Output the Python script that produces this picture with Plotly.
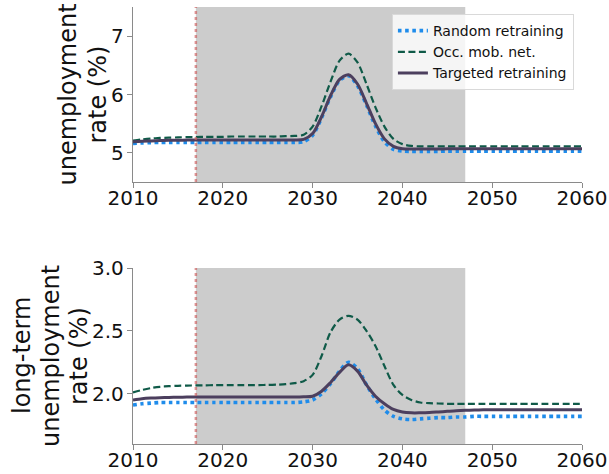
import plotly.graph_objects as go

# ---- data -------------------------------------------------------------
years = list(range(2010, 2061))

# unemployment rate (%)
u_random = [5.16, 5.17, 5.175, 5.18, 5.18, 5.18, 5.18, 5.18, 5.18, 5.18,
            5.18, 5.18, 5.18, 5.18, 5.18, 5.18, 5.18, 5.18, 5.18, 5.19,
            5.30, 5.60, 5.96, 6.24, 6.32, 6.15, 5.82, 5.46, 5.19, 5.06,
            5.03, 5.025, 5.025, 5.025, 5.025, 5.03, 5.03, 5.03, 5.03, 5.03,
            5.03, 5.03, 5.03, 5.03, 5.03, 5.03, 5.03, 5.03, 5.03, 5.03, 5.03]
u_occ = [5.21, 5.23, 5.245, 5.255, 5.26, 5.265, 5.27, 5.27, 5.275, 5.275,
         5.275, 5.28, 5.28, 5.28, 5.28, 5.28, 5.28, 5.285, 5.29, 5.31,
         5.45, 5.80, 6.22, 6.58, 6.70, 6.55, 6.18, 5.78, 5.45, 5.24,
         5.15, 5.12, 5.11, 5.11, 5.11, 5.11, 5.11, 5.11, 5.11, 5.11,
         5.11, 5.11, 5.11, 5.11, 5.11, 5.11, 5.11, 5.11, 5.11, 5.11, 5.11]
u_targeted = [5.19, 5.20, 5.205, 5.21, 5.215, 5.215, 5.22, 5.22, 5.22, 5.22,
              5.22, 5.22, 5.22, 5.22, 5.22, 5.22, 5.22, 5.22, 5.22, 5.23,
              5.33, 5.62, 5.98, 6.26, 6.34, 6.18, 5.85, 5.50, 5.24, 5.11,
              5.07, 5.065, 5.065, 5.065, 5.065, 5.07, 5.07, 5.07, 5.07, 5.07,
              5.07, 5.07, 5.07, 5.07, 5.07, 5.07, 5.07, 5.07, 5.07, 5.07, 5.07]

# long-term unemployment rate (%)
lt_random = [1.91, 1.92, 1.925, 1.93, 1.93, 1.93, 1.93, 1.93, 1.93, 1.93,
             1.93, 1.93, 1.93, 1.93, 1.93, 1.93, 1.93, 1.93, 1.93, 1.935,
             1.95, 2.00, 2.08, 2.18, 2.25, 2.20, 2.07, 1.96, 1.87, 1.82,
             1.80, 1.795, 1.80, 1.805, 1.81, 1.81, 1.815, 1.815, 1.82, 1.82,
             1.82, 1.82, 1.82, 1.82, 1.82, 1.82, 1.82, 1.82, 1.82, 1.82, 1.82]
lt_occ = [2.01, 2.03, 2.045, 2.055, 2.06, 2.063, 2.065, 2.066, 2.067, 2.068,
          2.068, 2.068, 2.068, 2.068, 2.069, 2.07, 2.072, 2.076, 2.085, 2.10,
          2.15, 2.30, 2.49, 2.59, 2.62, 2.59, 2.50, 2.38, 2.22, 2.07,
          1.99, 1.95, 1.93, 1.925, 1.922, 1.92, 1.92, 1.92, 1.92, 1.92,
          1.92, 1.92, 1.92, 1.92, 1.92, 1.92, 1.92, 1.92, 1.92, 1.92, 1.92]
lt_targeted = [1.95, 1.96, 1.965, 1.968, 1.97, 1.972, 1.973, 1.973, 1.973, 1.973,
               1.973, 1.973, 1.973, 1.973, 1.973, 1.973, 1.973, 1.973, 1.973, 1.975,
               1.98, 2.02, 2.09, 2.17, 2.23, 2.18, 2.07, 1.98, 1.92, 1.875,
               1.855, 1.848, 1.848, 1.85, 1.855, 1.86, 1.865, 1.868, 1.87, 1.872,
               1.873, 1.873, 1.873, 1.873, 1.873, 1.873, 1.873, 1.873, 1.873, 1.873, 1.873]

series_names = ["Random retraining", "Occ. mob. net.", "Targeted retraining"]
x_ticks = [2010, 2020, 2030, 2040, 2050, 2060]
shock_start = 2017
shock_end = 2047

# ---- styling ----------------------------------------------------------
colors = ["#1f8ceb", "#0f5a48", "#4c3f5e"]
line_styles = [
    dict(color=colors[0], width=3.6, dash="dot"),
    dict(color=colors[1], width=2.2, dash="7px,3.5px"),
    dict(color=colors[2], width=3.0, dash="solid"),
]
font_family = "DejaVu Sans"

fig = go.Figure()

panels = [
    ("x", "y", [u_random, u_occ, u_targeted], True),
    ("x2", "y2", [lt_random, lt_occ, lt_targeted], False),
]
for xa, ya, data, show in panels:
    for name, vals, style in zip(series_names, data, line_styles):
        fig.add_trace(go.Scatter(
            x=years, y=vals, name=name, mode="lines",
            line=dict(shape="spline", smoothing=0.8, **style),
            xaxis=xa, yaxis=ya, showlegend=show,
        ))

# shaded shock window and start marker in both panels
for xr, yr in [("x", "y domain"), ("x2", "y2 domain")]:
    fig.add_shape(type="rect", xref=xr, yref=yr, x0=shock_start, x1=shock_end,
                  y0=0, y1=1, fillcolor="#cccccc", line_width=0, layer="below")
    fig.add_shape(type="line", xref=xr, yref=yr, x0=shock_start, x1=shock_start,
                  y0=0, y1=1, line=dict(color="rgba(205,92,92,0.65)", width=2.5, dash="dot"),
                  layer="above")

axis_common = dict(
    automargin=False,
    showline=True, linecolor="#8a8a8a", linewidth=1.3,
    ticks="outside", ticklen=5, tickwidth=1.3, tickcolor="#8a8a8a",
    showgrid=False, zeroline=False,
    tickfont=dict(family=font_family, size=20, color="#111111"),
)
x_common = dict(axis_common, ticklabelstandoff=-7)
y_common = dict(axis_common, ticklabelstandoff=-1)

fig.update_layout(
    width=609, height=474,
    margin=dict(l=133, r=27, t=7, b=30),
    paper_bgcolor="white", plot_bgcolor="white",
    font=dict(family=font_family, color="#111111"),
    xaxis=dict(domain=[0, 1], anchor="y", range=[2010, 2060], tickvals=x_ticks, **x_common),
    yaxis=dict(domain=[0.5995, 1], anchor="x", range=[4.5, 7.5], tickvals=[5, 6, 7], **y_common),
    xaxis2=dict(domain=[0, 1], anchor="y2", range=[2010, 2060], tickvals=x_ticks, **x_common),
    yaxis2=dict(domain=[0, 0.4027], anchor="x2", range=[1.6, 3.0], tickvals=[2.0, 2.5, 3.0],
                tickformat=".1f", **y_common),
    legend=dict(
        x=0.982, y=0.984, xanchor="right", yanchor="top",
        bgcolor="rgba(255,255,255,0.8)", bordercolor="#d9d9d9", borderwidth=1,
        font=dict(family=font_family, size=14, color="#111111"),
        tracegroupgap=0,
    ),
    showlegend=True,
)

# y-axis titles, one rotated annotation per line
title_lines = [
    ("y domain", [("unemployment", 68), ("rate (%)", 98)]),
    ("y2 domain", [("long-term", 22), ("unemployment", 51), ("rate (%)", 79)]),
]
for yref, lines in title_lines:
    for text, cx in lines:
        fig.add_annotation(
            text=text, textangle=-90, xref="paper", x=0, xshift=cx - 133,
            yref=yref, y=0.5, xanchor="center", yanchor="middle",
            showarrow=False, font=dict(family=font_family, size=24, color="#111111"),
        )

fig.write_html("out.html")
